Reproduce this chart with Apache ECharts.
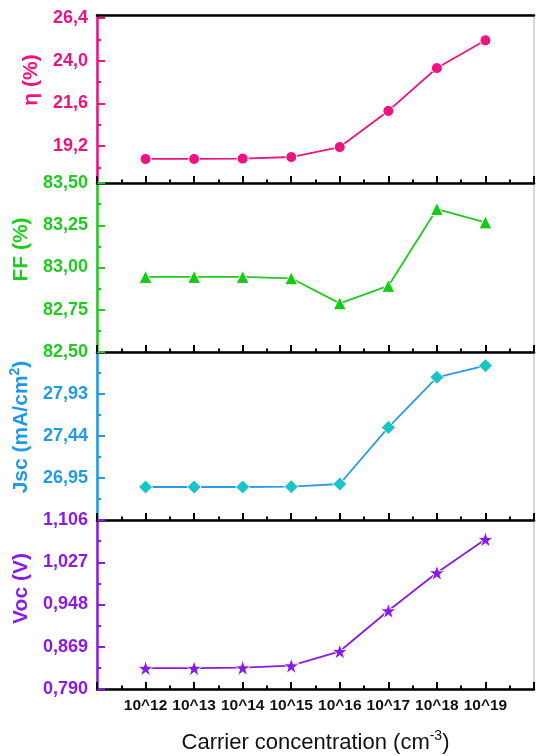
<!DOCTYPE html>
<html><head><meta charset="utf-8">
<script src="https://cdn.jsdelivr.net/npm/echarts@6/dist/echarts.min.js"></script>
<style>html,body{margin:0;padding:0;background:#fff}#c{width:536px;height:756px}</style>
</head><body><div id="c"></div>
<script>
// ---- data ----
const exponents = [12, 13, 14, 15, 16, 17, 18, 19];
const categories = ['10^12', '10^13', '10^14', '10^15', '10^16', '10^17', '10^18', '10^19'];

const eta = [18.48, 18.48, 18.50, 18.59, 19.15, 21.18, 23.59, 25.15];
const ff  = [82.944, 82.944, 82.944, 82.936, 82.788, 82.891, 83.346, 83.267];
const jsc = [26.845, 26.845, 26.845, 26.849, 26.88, 27.54, 28.125, 28.26];
const voc = [0.829, 0.829, 0.8298, 0.8336, 0.8605, 0.9364, 1.0075, 1.070];

const etaRange = [17.13, 26.57];
const etaTicks = [19.2, 21.6, 24.0, 26.4];
const etaMinor = [18.0, 20.4, 22.8, 25.2];

const ffRange = [82.5, 83.5];
const ffTicks = [82.5, 82.75, 83.0, 83.25, 83.5];
const ffMinor = [82.625, 82.875, 83.125, 83.375];

const jscRange = [26.46, 28.42];
const jscTicks = [26.95, 27.44, 27.93];
const jscMinor = [26.705, 27.195, 27.685, 28.175];

const vocRange = [0.790, 1.106];
const vocTicks = [0.790, 0.869, 0.948, 1.027, 1.106];
const vocMinor = [0.8295, 0.9085, 0.9875, 1.0665];

// ---- styling / layout ----
const FONT = 'Liberation Sans, Arial, sans-serif';
const STAR = 'path://M50,0 L61.8,35.3 L98.9,35.3 L68.9,57.1 L80.3,92.4 L50,70.6 L19.7,92.4 L31.1,57.1 L1.1,35.3 L38.2,35.3 Z';

const panels = [
  { name: 'η (%)', vals: eta, range: etaRange, ticks: etaTicks, minor: etaMinor, dec: 1,
    axisColor: '#EE1380', lineColor: '#EE1380', markColor: '#EE1380', symbol: 'circle', size: 11, gap: 49, shift: 38 },
  { name: 'FF (%)', vals: ff, range: ffRange, ticks: ffTicks, minor: ffMinor, dec: 2,
    axisColor: '#1ECC1E', lineColor: '#1ECC1E', markColor: '#14CC14', symbol: 'triangle', size: 13, gap: 57, shift: 36 },
  { name: '{b|Jsc (mA/cm}{s|2}{b|)}', vals: jsc, range: jscRange, ticks: jscTicks, minor: jscMinor, dec: 2,
    axisColor: '#1E9AE6', lineColor: '#2A9AE8', markColor: '#18C6C8', symbol: 'diamond', size: 14, gap: 57, shift: 18, rich: true },
  { name: 'Voc (V)', vals: voc, range: vocRange, ticks: vocTicks, minor: vocMinor, dec: 3,
    axisColor: '#8A1AE6', lineColor: '#8A1AE6', markColor: '#8A1AE6', symbol: STAR, size: 16, gap: 59, shift: 32 }
];

const tops = [15, 183, 352, 520];
const heights = [168, 169, 168, 169];

const grid = [], xAxis = [], yAxis = [], series = [];

panels.forEach((p, i) => {
  grid.push({ left: 97, width: 437, top: tops[i], height: heights[i], show: true,
    borderColor: '#b0b0b0', borderWidth: 1, backgroundColor: 'transparent' });

  const last = i === panels.length - 1;
  xAxis.push({
    gridIndex: i, type: 'value', min: 11, max: 20, interval: 1, position: 'bottom',
    axisLine: { onZero: false, lineStyle: { color: '#000', width: 2.5 } },
    axisTick: { inside: true, length: 7, lineStyle: { color: '#000', width: 2 } },
    minorTick: { show: true, splitNumber: 2, length: 3.5, lineStyle: { color: '#000', width: 2 } },
    splitLine: { show: false },
    axisLabel: {
      show: last, margin: 9, color: '#111', fontWeight: 'bold', fontSize: 15.5, fontFamily: FONT,
      customValues: exponents,
      formatter: v => { const k = exponents.indexOf(Math.round(v)); return k >= 0 ? categories[k] : ''; }
    },
    name: last ? '{a|Carrier concentration (cm}{s|-3}{a|)}' : '',
    nameLocation: 'middle', nameGap: 40,
    nameTextStyle: {
      rich: {
        a: { fontSize: 22, color: '#111', fontFamily: FONT },
        s: { fontSize: 14, color: '#111', fontFamily: FONT, padding: [0, 0, 13, 0] }
      }
    }
  });

  const labelStyle = { color: p.axisColor, fontWeight: 'bold', fontSize: 18, fontFamily: FONT };
  yAxis.push({
    gridIndex: i, type: 'value', min: p.range[0], max: p.range[1], position: 'left',
    axisLine: { show: true, onZero: false, lineStyle: { color: p.axisColor, width: 2.5 } },
    axisTick: { show: true, inside: true, length: 8, customValues: p.ticks, lineStyle: { color: p.axisColor, width: 2 } },
    axisLabel: { show: true, margin: 9, customValues: p.ticks, ...labelStyle,
      formatter: v => v.toFixed(p.dec).replace('.', ',') },
    splitLine: { show: false },
    name: p.name, nameLocation: 'middle', nameRotate: 90, nameGap: p.gap,
    nameTextStyle: {
      color: p.axisColor, fontWeight: 'bold', fontSize: 21, fontFamily: FONT,
      padding: [0, 0, 0, p.shift],
      rich: p.rich ? {
        b: { fontSize: 21, fontWeight: 'bold', color: p.axisColor, fontFamily: FONT },
        s: { fontSize: 14, fontWeight: 'bold', color: p.axisColor, fontFamily: FONT, padding: [0, 0, 13, 0] }
      } : undefined
    }
  });
  yAxis.push({
    gridIndex: i, type: 'value', min: p.range[0], max: p.range[1], position: 'left',
    axisLine: { show: false },
    axisTick: { show: true, inside: true, length: 4, customValues: p.minor, lineStyle: { color: p.axisColor, width: 2 } },
    axisLabel: { show: false },
    splitLine: { show: false }
  });

  series.push({
    type: 'line', xAxisIndex: i, yAxisIndex: 2 * i,
    data: exponents.map((e, k) => [e, p.vals[k]]),
    symbol: p.symbol, symbolSize: p.size,
    lineStyle: { color: p.lineColor, width: 1.8 },
    itemStyle: { color: p.markColor, borderColor: '#fff', borderWidth: 1 },
    z: 5
  });
});

// top border of first panel
xAxis.push({
  gridIndex: 0, type: 'value', min: 11, max: 20, position: 'top',
  axisLine: { onZero: false, lineStyle: { color: '#000', width: 2.5 } },
  axisTick: { show: false }, axisLabel: { show: false }, splitLine: { show: false }
});

const chart = echarts.init(document.getElementById('c'), null, { renderer: 'canvas' });
chart.setOption({ animation: false, backgroundColor: '#fff', grid, xAxis, yAxis, series });
</script>
</body></html>
